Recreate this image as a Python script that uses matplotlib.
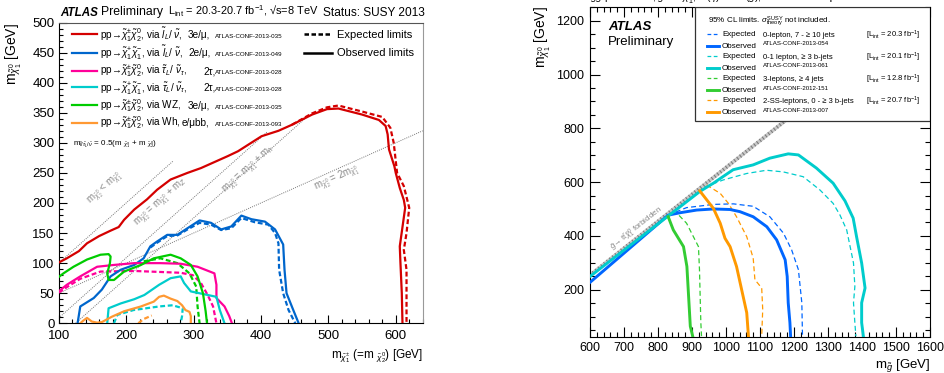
import matplotlib
matplotlib.use("Agg")
import matplotlib.pyplot as plt
from matplotlib.lines import Line2D
from matplotlib.patches import Rectangle
from matplotlib.ticker import MultipleLocator

plt.rcParams['font.family'] = ['Liberation Sans', 'DejaVu Sans']
plt.rcParams['mathtext.fontset'] = 'custom'
plt.rcParams['mathtext.rm'] = 'Liberation Sans'
plt.rcParams['mathtext.it'] = 'Liberation Sans:italic'
plt.rcParams['mathtext.bf'] = 'Liberation Sans:bold'
plt.rcParams['mathtext.fallback'] = 'stixsans'

# ---- electroweak production limits (left) ----
red_obs_x = [100, 112, 130, 142, 160, 177, 189, 197, 212, 231, 246, 266, 291, 311, 351, 366, 401, 426, 446,
             476, 498, 515, 550, 575, 585, 588, 590, 598, 600, 606, 612, 614, 610, 606, 607, 609, 610]
red_obs_y = [101, 108, 120, 133, 145, 154, 160, 172, 189, 206, 222, 239, 250, 258, 278, 286, 311, 320, 330,
             347, 356, 357, 347, 338, 328, 314, 289, 261, 250, 225, 205, 192, 160, 128, 100, 50, 0]
red_exp_x = [446, 476, 498, 515, 550, 580, 592, 597, 602, 612, 620, 616, 612, 616, 616]
red_exp_y = [330, 349, 359, 362, 352, 343, 325, 300, 250, 228, 192, 150, 122, 89, 0]

blue_obs_x = [128, 132, 152, 164, 177, 192, 212, 226, 236, 246, 261, 276, 291, 309, 326, 341, 356, 371, 386,
              406, 421, 433, 435, 438, 448, 456]
blue_obs_y = [0, 28, 42, 56, 78, 89, 97, 108, 128, 136, 147, 147, 158, 171, 167, 156, 161, 179, 173,
              169, 156, 131, 89, 50, 22, 0]
blue_exp_x = [236, 246, 261, 276, 291, 309, 326, 341, 356, 371, 391, 411, 421, 426, 427, 433, 441, 451]
blue_exp_y = [126, 134, 145, 146, 156, 167, 164, 155, 158, 175, 168, 164, 150, 133, 89, 50, 22, 0]

magenta_obs_x = [100, 112, 132, 157, 182, 212, 251, 281, 306, 331, 334, 334, 346, 353, 357]
magenta_obs_y = [53, 64, 78, 94, 97, 100, 100, 99, 94, 83, 64, 42, 28, 12, 0]
magenta_exp_x = [100, 112, 132, 162, 212, 281, 299, 311, 321, 329, 334]
magenta_exp_y = [51, 60, 74, 86, 87, 84, 80, 67, 47, 28, 0]

cyan_obs_x = [172, 174, 192, 212, 227, 249, 266, 281, 286, 296, 334, 339, 346]
cyan_obs_y = [0, 25, 33, 40, 47, 64, 75, 78, 67, 53, 44, 22, 0]
cyan_exp_x = [182, 187, 211, 249, 269, 284, 283, 281]
cyan_exp_y = [0, 14, 22, 28, 30, 25, 12, 0]

green_obs_x = [100, 107, 122, 142, 162, 174, 177, 176, 172, 174, 182, 197, 222, 241, 266, 281, 296, 306,
               314, 318, 320]
green_obs_y = [77, 83, 94, 106, 114, 115, 111, 100, 83, 72, 72, 86, 97, 108, 114, 108, 97, 78,
               50, 20, 0]
green_exp_x = [226, 251, 276, 294, 304, 306, 309]
green_exp_y = [103, 108, 100, 83, 61, 28, 0]

orange_obs_x = [132, 136, 142, 149, 157, 164, 179, 197, 222, 241, 249, 256, 266, 276, 283, 288, 294, 296, 296]
orange_obs_y = [0, 4, 9, 3, 1, 2, 11, 20, 28, 36, 44, 46, 41, 37, 30, 22, 19, 12, 0]
orange_exp_x = [218, 226, 238]
orange_exp_y = [0, 7, 13]

m_Z = 91.2
m_h = 125.0

ew_colors = ['#d40000', '#0066cc', '#ff0099', '#00cccc', '#00cc00', '#ff9933']
ew_labels = [r'pp→$\tilde{\chi}^{\pm}_{1}\tilde{\chi}^{0}_{2}$, via $\tilde{l}_{L}$/ $\tilde{\nu}$,',
             r'pp→$\tilde{\chi}^{+}_{1}\tilde{\chi}^{-}_{1}$, via $\tilde{l}_{L}$/ $\tilde{\nu}$,',
             r'pp→$\tilde{\chi}^{\pm}_{1}\tilde{\chi}^{0}_{2}$, via $\tilde{\tau}_{L}$/ $\tilde{\nu}_{\tau}$,',
             r'pp→$\tilde{\chi}^{+}_{1}\tilde{\chi}^{-}_{1}$, via $\tilde{\tau}_{L}$/ $\tilde{\nu}_{\tau}$,',
             r'pp→$\tilde{\chi}^{\pm}_{1}\tilde{\chi}^{0}_{2}$, via WZ,',
             r'pp→$\tilde{\chi}^{\pm}_{1}\tilde{\chi}^{0}_{2}$, via Wh,']
ew_channels = ['3e/μ,', '2e/μ,', '2τ,', '2τ,', '3e/μ,', 'e/μbb,']
ew_confs = ['ATLAS-CONF-2013-035', 'ATLAS-CONF-2013-049', 'ATLAS-CONF-2013-028',
            'ATLAS-CONF-2013-028', 'ATLAS-CONF-2013-035', 'ATLAS-CONF-2013-093']

# ---- gluino -> ttbar + LSP limits (right) ----
g_blue_obs_x = [600, 830, 865, 914, 963, 1012, 1041, 1080, 1120, 1149, 1174, 1180, 1183, 1188, 1190]
g_blue_obs_y = [227, 477, 486, 496, 500, 498, 490, 471, 434, 385, 311, 249, 151, 77, 27]
g_blue_exp_x = [830, 884, 963, 1022, 1080, 1129, 1169, 1193, 1213, 1223, 1225]
g_blue_exp_y = [477, 505, 517, 519, 510, 471, 410, 348, 274, 151, 27]

g_cyan_obs_x = [600, 923, 963, 1021, 1080, 1129, 1183, 1213, 1266, 1315, 1350, 1374, 1384, 1399, 1409,
                1399, 1399, 1404]
g_cyan_obs_y = [249, 565, 596, 646, 664, 689, 705, 701, 652, 596, 530, 466, 397, 299, 206,
                151, 77, 27]
g_cyan_exp_x = [938, 992, 1061, 1119, 1168, 1227, 1276, 1315, 1335, 1355, 1375, 1379, 1375, 1379, 1382]
g_cyan_exp_y = [582, 608, 632, 644, 638, 620, 571, 521, 478, 422, 299, 212, 151, 77, 27]

g_green_obs_x = [830, 845, 875, 885, 890, 895, 902]
g_green_obs_y = [471, 422, 360, 286, 175, 64, 27]
g_green_exp_x = [862, 884, 919, 922, 924, 926, 928]
g_green_exp_y = [476, 447, 360, 274, 175, 77, 27]

g_orange_obs_x = [923, 963, 983, 997, 1012, 1031, 1046, 1061, 1066]
g_orange_obs_y = [567, 502, 447, 391, 360, 286, 200, 114, 27]
g_orange_exp_x = [943, 983, 1007, 1031, 1061, 1080, 1085, 1105, 1108, 1105]
g_orange_exp_y = [589, 558, 521, 471, 397, 317, 237, 206, 126, 27]

m_top = 173.0

g_colors = ['#0066ff', '#00cccc', '#33cc33', '#ff9900']
g_desc = ['0-lepton, 7 - ≥ 10 jets', '0-1 lepton, ≥ 3 b-jets',
          '3-leptons, ≥ 4 jets', '2-SS-leptons, 0 - ≥ 3 b-jets']
g_confs = ['ATLAS-CONF-2013-054', 'ATLAS-CONF-2013-061', 'ATLAS-CONF-2012-151', 'ATLAS-CONF-2013-007']
g_lumi = ['20.3', '20.1', '12.8', '20.7']

W, H = 944, 373


def fx(px):
    return px / W


def fy(py):
    return 1 - py / H


fig = plt.figure(figsize=(W / 100, H / 100), dpi=100)

# left panel
ax1 = fig.add_axes([fx(58.7), fy(323.3), (422.7 - 58.7) / W, (323.3 - 22.5) / H])
ax1.set_xlim(100, 640)
ax1.set_ylim(0, 500)

kin = dict(color='#777777', lw=0.7, ls=(0, (1, 1.2)), zorder=1)
ax1.plot([100, 270], [100, 270], **kin)
ax1.plot([100, 410], [100 - m_Z, 410 - m_Z], **kin)
ax1.plot([m_h, 470], [0, 470 - m_h], **kin)
ax1.plot([100, 640], [50, 320], **kin)

kt = dict(color='#888888', fontsize=7, ha='center', va='center')
ax1.text(168, 224, r'm$_{\tilde{\chi}^{0}_{2}}$ < m$_{\tilde{\chi}^{0}_{1}}$', rotation=42, **kt)
ax1.text(252, 201, r'm$_{\tilde{\chi}^{0}_{2}}$ = m$_{\tilde{\chi}^{0}_{1}}$ + m$_{Z}$', rotation=42, **kt)
ax1.text(383, 256, r'm$_{\tilde{\chi}^{0}_{2}}$ = m$_{\tilde{\chi}^{0}_{1}}$ + m$_{h}$', rotation=42, **kt)
ax1.text(512, 242, r'm$_{\tilde{\chi}^{0}_{2}}$ = 2m$_{\tilde{\chi}^{0}_{1}}$', rotation=24, **kt)

ew_obs = [(red_obs_x, red_obs_y), (blue_obs_x, blue_obs_y), (magenta_obs_x, magenta_obs_y),
          (cyan_obs_x, cyan_obs_y), (green_obs_x, green_obs_y), (orange_obs_x, orange_obs_y)]
ew_exp = [(red_exp_x, red_exp_y), (blue_exp_x, blue_exp_y), (magenta_exp_x, magenta_exp_y),
          (cyan_exp_x, cyan_exp_y), (green_exp_x, green_exp_y), (orange_exp_x, orange_exp_y)]
for c, (ox, oy), (ex, ey) in zip(ew_colors, ew_obs, ew_exp):
    ax1.plot(ex, ey, color=c, lw=1.6, ls=(0, (2.2, 1.2)), zorder=3)
    ax1.plot(ox, oy, color=c, lw=1.6, zorder=4, solid_joinstyle='round')

ax1.xaxis.set_major_locator(MultipleLocator(100))
ax1.xaxis.set_minor_locator(MultipleLocator(20))
ax1.yaxis.set_major_locator(MultipleLocator(50))
ax1.yaxis.set_minor_locator(MultipleLocator(10))
ax1.tick_params(which='both', direction='in', top=False, right=False, labelsize=9.5, width=0.8)
ax1.tick_params(which='major', length=6, pad=3)
ax1.tick_params(axis='x', which='major', pad=4.5)
ax1.tick_params(which='minor', length=3)
ax1.spines['right'].set_color('#999999')
ax1.spines['top'].set_color('#555555')

# left legend
rows = [34.3, 52.7, 70.7, 87.3, 105.3, 122.7]
chan_x = [188, 188, 203, 203, 188, 182]
for i, y in enumerate(rows):
    fig.add_artist(Line2D([fx(72), fx(97)], [fy(y), fy(y)], color=ew_colors[i], lw=1.6))
    fig.text(fx(100), fy(y + 3.5), ew_labels[i], fontsize=7.2, va='baseline')
    fig.text(fx(chan_x[i]), fy(y + 3.5), ew_channels[i], fontsize=7.2, va='baseline')
    fig.text(fx(215), fy(y + 3.5), ew_confs[i], fontsize=4.5, va='baseline')
fig.add_artist(Line2D([fx(304), fx(332)], [fy(34.3), fy(34.3)], color='black', lw=1.8, ls=(0, (1.8, 1))))
fig.add_artist(Line2D([fx(304), fx(332)], [fy(52.7), fy(52.7)], color='black', lw=1.8))
fig.text(fx(337), fy(34.3 + 3.5), 'Expected limits', fontsize=8, va='baseline')
fig.text(fx(337), fy(52.7 + 3.5), 'Observed limits', fontsize=8, va='baseline')
fig.text(fx(73), fy(144),
         r'm$_{\tilde{l}/\tilde{\tau}_{L}/\tilde{\nu}}$ = 0.5(m $_{\tilde{\chi}^{\pm}_{1}}$ + m $_{\tilde{\chi}^{0}_{2}}$)',
         fontsize=5.8, va='center')

# left header and axis titles
fig.text(fx(60), fy(15.5), 'ATLAS', fontsize=8.4, weight='bold', style='italic', va='baseline')
fig.text(fx(101), fy(15.5), 'Preliminary', fontsize=8.8, va='baseline')
fig.text(fx(168), fy(15.5), r'L$_{\rm int}$ = 20.3-20.7 fb$^{-1}$, √s=8 TeV', fontsize=7.9, va='baseline')
fig.text(fx(425), fy(15.5), 'Status: SUSY 2013', fontsize=8.6, ha='right', va='baseline')
fig.text(fx(14), fy(23), r'm$_{\tilde{\chi}^{0}_{1}}$ [GeV]', fontsize=10, rotation=90, ha='center', va='top')
fig.text(fx(423), fy(356), r'm$_{\tilde{\chi}^{\pm}_{1}}$ (=m $_{\tilde{\chi}^{0}_{2}}$) [GeV]', fontsize=8.5,
         ha='right', va='center')

# right panel
ax2 = fig.add_axes([fx(590), fy(336.7), 340 / W, (336.7 - 7.3) / H])
ax2.set_xlim(600, 1600)
ax2.set_ylim(25, 1250)

diag_x = [600, 1180]
diag_y = [x - 2 * m_top for x in diag_x]
ax2.plot(diag_x, diag_y, color='#c8c8c8', lw=2.6, zorder=1, solid_capstyle='butt')
ax2.plot(diag_x, diag_y, color='#7a7a7a', lw=2.6, ls=(0, (0.3, 0.7)), zorder=1)
ax2.text(737, 424, r'$\tilde{g}$→ t$\bar{\rm t}\tilde{\chi}^{0}_{1}$ forbidden', rotation=38.5,
         color='#888888', fontsize=5.8, ha='center', va='center')

g_obs = [(g_blue_obs_x, g_blue_obs_y), (g_cyan_obs_x, g_cyan_obs_y),
         (g_green_obs_x, g_green_obs_y), (g_orange_obs_x, g_orange_obs_y)]
g_exp = [(g_blue_exp_x, g_blue_exp_y), (g_cyan_exp_x, g_cyan_exp_y),
         (g_green_exp_x, g_green_exp_y), (g_orange_exp_x, g_orange_exp_y)]
for c, (ox, oy), (ex, ey) in zip(g_colors, g_obs, g_exp):
    ax2.plot(ex, ey, color=c, lw=0.9, ls=(0, (4, 2.5)), zorder=3)
    ax2.plot(ox, oy, color=c, lw=2.1, zorder=4)

ax2.xaxis.set_major_locator(MultipleLocator(100))
ax2.xaxis.set_minor_locator(MultipleLocator(20))
ax2.yaxis.set_major_locator(MultipleLocator(200))
ax2.yaxis.set_minor_locator(MultipleLocator(50))
ax2.tick_params(which='both', direction='in', top=True, right=True, labelsize=9, width=0.8)
ax2.tick_params(which='major', length=7, pad=4)
ax2.tick_params(which='minor', length=3.5)

ax2.add_patch(Rectangle((0.309, 0.655), 0.691, 0.345, transform=ax2.transAxes,
                        facecolor='white', edgecolor='#333333', lw=0.9, zorder=6))

# right legend
fig.text(fx(708), fy(22), r'95% CL limits. $\sigma^{\rm SUSY}_{\rm theory}$ not included.', fontsize=5.8, va='baseline')
exp_rows = [34, 56, 78, 100]
obs_rows = [45.7, 68, 89.7, 112]
conf_rows = [43, 65, 88, 110]
for i in range(4):
    fig.add_artist(Line2D([fx(707), fx(719)], [fy(exp_rows[i]), fy(exp_rows[i])], color=g_colors[i],
                          lw=0.9, ls=(0, (3, 2))))
    fig.add_artist(Line2D([fx(707), fx(719)], [fy(obs_rows[i]), fy(obs_rows[i])], color=g_colors[i], lw=2.1))
    fig.text(fx(722), fy(exp_rows[i] + 2.5), 'Expected', fontsize=5.8, va='baseline')
    fig.text(fx(722), fy(obs_rows[i] + 2.5), 'Observed', fontsize=5.8, va='baseline')
    fig.text(fx(763), fy(exp_rows[i] + 3), g_desc[i], fontsize=5.5, va='baseline')
    fig.text(fx(763), fy(conf_rows[i] + 2), g_confs[i], fontsize=4.4, va='baseline')
    fig.text(fx(866), fy(exp_rows[i] + 3), r'[L$_{\rm int}$ = ' + g_lumi[i] + r' fb$^{-1}$]', fontsize=5.5,
             va='baseline')

fig.text(fx(608), fy(27), 'ATLAS', fontsize=9.5, weight='bold', style='italic', va='center')
fig.text(fx(608), fy(42), 'Preliminary', fontsize=9.5, va='center')
fig.text(fx(543), fy(6), r'm$_{\tilde{\chi}^{0}_{1}}$ [GeV]', fontsize=10, rotation=90, ha='center', va='top')
fig.text(fx(930), fy(368), r'm$_{\tilde{g}}$ [GeV]', fontsize=9.5, ha='right', va='baseline')
fig.text(fx(590), fy(-3),
         r'$\tilde{g}\tilde{g}$ production, $\tilde{g}$→ t$\bar{\rm t}\tilde{\chi}^{0}_{1}$, m($\tilde{q}$) >> m($\tilde{g}$), √s = 8 TeV',
         fontsize=7.4, va='center')
fig.text(fx(930), fy(-3), 'Lepton & Photon 2013', fontsize=8.2, ha='right', va='center')

fig.savefig('out.png', dpi=100)
